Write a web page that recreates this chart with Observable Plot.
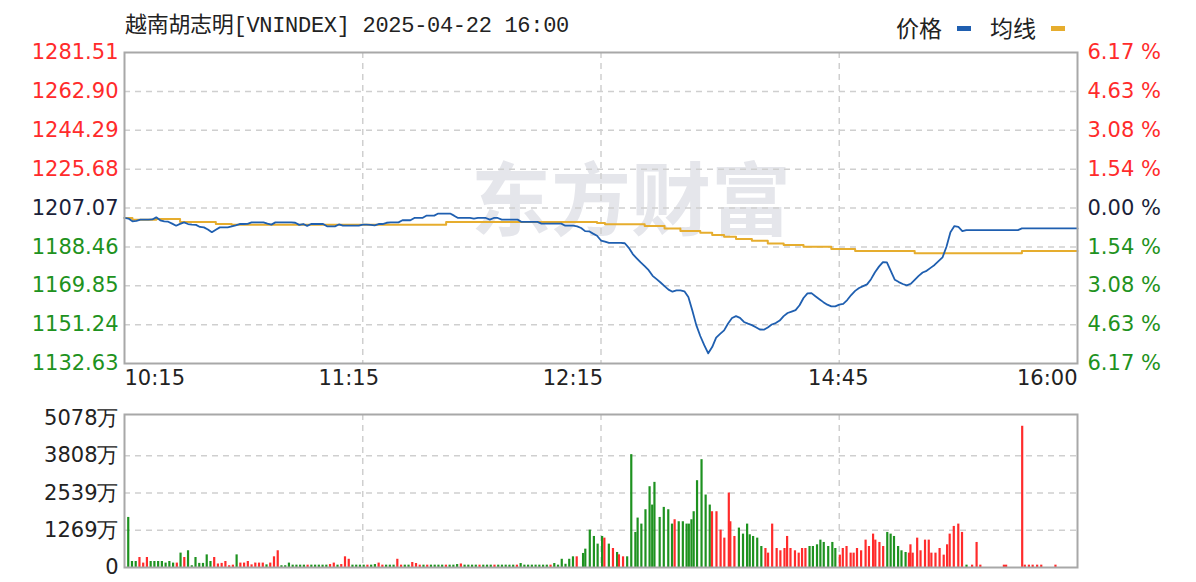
<!DOCTYPE html>
<html><head><meta charset="utf-8">
<script src="https://cdn.jsdelivr.net/npm/d3@7"></script>
<script src="https://cdn.jsdelivr.net/npm/@observablehq/plot@0.6"></script>
<style>
body{margin:0;background:#fff;}
#wrap{position:relative;width:1196px;height:582px;overflow:hidden;background:#fff;}
#title{position:absolute;left:125px;top:12px;line-height:30px;font-size:22px;font-family:"Liberation Mono","Noto Sans CJK SC",monospace;color:#222;white-space:nowrap;letter-spacing:-0.3px;}
#legend{position:absolute;left:896px;top:12px;line-height:30px;font-size:23px;font-family:"Noto Sans CJK SC",sans-serif;color:#222;white-space:nowrap;}
#legend .sw{display:inline-block;width:14px;height:5px;vertical-align:middle;margin:0 19px 0 15px;position:relative;top:-2px;}
#main{position:absolute;left:0;top:40px;}
#vol{position:absolute;left:0;top:400px;}
</style></head>
<body><div id="wrap">
<div id="title">越南胡志明[VNINDEX] 2025-04-22 16:00</div>
<div id="legend">价格<span class="sw" style="background:#1f5fb0"></span>均线<span class="sw" style="background:#e6ad2e"></span></div>
<div id="main"></div>
<div id="vol"></div>
</div>
<script>
// ---- data ----
const prevClose = 1207.07;
const priceTicks = [1281.51,1262.90,1244.29,1225.68,1207.07,1188.46,1169.85,1151.24,1132.63];
const pctLabels = ["6.17 %","4.63 %","3.08 %","1.54 %","0.00 %","1.54 %","3.08 %","4.63 %","6.17 %"];
const timeLabels = ["10:15","11:15","12:15","14:45","16:00"];
const timeMinutes = [0,60,120,191,255];
const sessionMinutes = 255;
const quarterGrid = [63.75,127.5,191.25];
const volTicks = [0,1269,2539,3808,5078];
const volLabels = ["0","1269万","2539万","3808万","5078万"];

// price readings, 241 evenly spaced readings across the session
const price = [1202.3,1202.0,1200.7,1200.9,1201.5,1201.5,1201.5,1201.6,1202.6,1201.2,
1200.7,1200.5,1199.6,1198.6,1199.5,1200.2,1199.4,1199.1,1199.0,1198.0,
1197.8,1196.8,1195.5,1196.7,1197.8,1197.8,1197.8,1198.3,1198.8,1199.4,
1199.4,1199.5,1200.2,1200.2,1200.2,1200.2,1199.6,1199.1,1200.2,1200.2,
1200.2,1200.2,1200.2,1200.0,1199.0,1199.4,1198.5,1199.4,1199.4,1199.4,
1199.4,1198.3,1198.3,1198.3,1199.2,1198.6,1198.6,1198.6,1198.6,1198.6,
1199.1,1199.1,1199.0,1198.8,1199.4,1199.4,1200.0,1200.2,1200.2,1200.2,
1201.2,1201.2,1201.2,1202.3,1202.3,1202.3,1203.4,1203.4,1203.4,1204.4,
1204.4,1204.4,1204.4,1203.4,1202.3,1202.3,1202.3,1202.3,1202.0,1202.3,
1202.3,1202.3,1201.5,1202.3,1202.3,1201.5,1201.5,1201.5,1201.5,1201.5,
1200.4,1200.4,1200.4,1200.4,1200.4,1199.6,1199.6,1199.6,1199.6,1199.6,
1199.6,1198.6,1198.6,1198.6,1198.3,1197.5,1196.0,1195.9,1194.8,1193.8,
1191.5,1191.0,1190.4,1190.4,1190.4,1190.4,1190.2,1188.0,1185.0,1183.0,
1181.0,1179.2,1177.3,1174.6,1173.0,1171.4,1169.7,1168.0,1167.0,1167.6,
1167.6,1167.2,1164.5,1158.0,1151.0,1145.8,1141.4,1137.5,1140.5,1145.0,
1146.8,1148.5,1151.8,1154.4,1155.3,1154.5,1152.5,1151.7,1151.0,1150.0,
1148.9,1148.8,1149.9,1151.3,1152.0,1153.2,1155.3,1156.8,1157.5,1158.2,
1160.5,1164.0,1166.2,1166.3,1164.8,1163.4,1162.0,1160.8,1160.0,1160.0,
1160.8,1161.2,1163.0,1165.4,1167.4,1168.8,1169.7,1170.5,1173.0,1176.3,
1179.0,1181.2,1181.0,1176.8,1172.7,1171.6,1170.7,1170.0,1170.8,1172.7,
1174.6,1176.2,1177.0,1178.4,1179.8,1181.6,1183.4,1188.5,1195.5,1198.4,
1198.0,1196.0,1196.5,1196.5,1196.5,1196.5,1196.5,1196.5,1196.5,1196.5,
1196.5,1196.5,1196.5,1196.5,1196.5,1196.5,1197.3,1197.3,1197.3,1197.3,
1197.3,1197.3,1197.3,1197.3,1197.3,1197.3,1197.3,1197.3,1197.3,1197.3,1197.3];

// average line: reading index where each level starts, and the level
const avgIdx = [0,2,8,14,23,27,81,119,121,131,136,140,145,148,151,154,158,162,166,171,178,184,199,226,240];
const avgVal = [1202.3,1201.5,1201.8,1200.4,1199.4,1199.1,1200.4,1199.9,1199.3,1198.4,1197.3,1196.1,1195.2,1194.1,1193.3,1192.2,1191.4,1190.1,1189.3,1188.5,1187.4,1186.5,1185.4,1186.5,1186.5];

// morning volume (万), minutes 1..121
const amVol = [1705,205,205,340,150,340,205,205,205,205,
150,205,150,150,490,340,570,60,340,140,
140,430,205,340,120,140,205,60,80,430,
150,150,205,90,150,150,150,90,150,364,
570,60,60,150,80,80,80,80,80,80,
80,80,80,80,100,150,80,100,364,280,
80,80,80,80,80,80,100,150,80,80,
80,80,280,80,80,80,170,135,80,80,
80,80,80,80,80,80,80,80,100,120,
80,80,80,80,80,80,80,80,80,80,
80,80,80,80,80,135,80,80,80,80,
80,80,80,80,135,80,280,110,280,364,
364];
const amUp = "GGGRRRGGGGGGGRGRGGGGGGGRRRRRRGRRRRRRRGRRRGGGGGGGRGGGGGRRGRRRGGGGRGGRRGGGRRGGRRRGRGGGGRGGGRGGGGRGGGRGGGGGRGGGGGGGGRGGGGGGR";
// afternoon volume
const pmMin = [122.7,123.3,124.5,125.6,126.6,127.8,128.4,129.6,130.7,131.8,
132.3,133.4,134.5,135.6,136.7,137.3,138.3,139.4,140.5,141.2,
141.8,143.2,144.3,145.5,146.5,147.2,148.3,149.4,150.4,151.0,
151.7,152.3,153.2,154.4,155.5,156.6,157.2,158.4,159.5,160.5,
161.7,162.1,163.2,164.4,165.5,166.6,167.3,168.2,169.3,170.4,
171.5,172.2,173.3,174.5,175.5,176.6,177.3,178.2,179.4,180.4,
181.3,182.2,183.3,184.2,185.3,186.2,187.1,188.3,189.4,190.2,
191.4,192.2,193.2,194.3,195.1,196.0,197.1,198.3,199.2,200.3,
200.9,202.0,203.0,204.1,205.0,205.9,207.0,207.9,209.0,209.9,
210.3,210.9,212.1,213.0,214.2,215.2,215.9,217.0,218.1,219.2,
220.1,220.8,221.9,223.1,224.1,225.3,226.8,228.0,229.0,235.3,
235.9,240.2,240.9,242.0,243.0,244.2,245.3,249.1];
const pmVol = [478,625,1273,1057,796,1057,1000,796,648,512,
432,364,364,3843,1194,1683,1478,1967,2751,2126,
2899,1705,2047,1967,1478,1626,1558,1558,1478,1478,
1626,1899,2956,3672,2467,2126,1899,1899,1273,1000,
2536,1558,1057,1342,1137,1478,1114,1057,1000,716,
648,489,1478,648,569,648,1057,648,569,489,
648,648,716,716,773,932,853,716,853,648,
421,648,716,489,489,648,569,932,716,1137,
932,853,716,1194,1137,1057,716,569,512,489,
773,489,1000,569,932,932,489,489,648,421,
773,1137,1399,1478,1194,80,80,853,80,80,
80,4809,80,80,80,80,80,80];
const pmUp = "GGGGGGRGRGRRGGGGGGGGGGGGGRGGGGGGGGGGRRRRRRRGGGGGGGRRRRRRRRRRRRGGGGGGGGRRRRRRRRRRRRRGGGGGGRRRRRRRRRRRRRRRRGRRRRRRRRRRRRR";

// ---- build tables ----
const toMin = i => i * sessionMinutes / (price.length - 1);
const priceData = price.map((v, i) => ({m: toMin(i), v}));
const avgData = avgIdx.map((k, i) => ({m: toMin(k), v: avgVal[i]}));
const volData = [
  ...amVol.map((v, i) => ({m: i + 1, v, up: amUp[i] === "R"})),
  ...pmVol.map((v, i) => ({m: pmMin[i], v, up: pmUp[i] === "R"}))
];
const RED = "#ff2b2b", GREEN = "#1e9220", DARK = "#1b1f3a";
const tickColor = v => v > prevClose + 1e-6 ? RED : (v < prevClose - 1e-6 ? GREEN : DARK);
const FONT = "DejaVu Sans";
const gridStyle = {stroke: "#cfcfcf", strokeWidth: 1.5, strokeDasharray: "6,5"};
const lblFont = {fontSize: 21, fontFamily: FONT};

const main = Plot.plot({
  width: 1196, height: 360,
  marginTop: 12, marginBottom: 37, marginLeft: 124, marginRight: 119,
  x: {domain: [0, sessionMinutes], axis: null},
  y: {domain: [priceTicks[priceTicks.length - 1], priceTicks[0]], axis: null},
  style: {fontFamily: FONT, background: "#fff", overflow: "visible"},
  marks: [
    Plot.text(["东方财富"], {frameAnchor: "middle", dx: 30, dy: -5, fontSize: 80, fontWeight: 700, fontFamily: "Noto Sans CJK SC", fill: "#e5e6eb"}),
    Plot.ruleY(priceTicks.slice(1, -1), gridStyle),
    Plot.ruleX(quarterGrid, gridStyle),
    Plot.line(avgData, {x: "m", y: "v", stroke: "#e6ad2e", strokeWidth: 2, curve: "step-after"}),
    Plot.line(priceData, {x: "m", y: "v", stroke: "#1f5fb0", strokeWidth: 1.8}),
    Plot.frame({stroke: "#a8a8a8", strokeWidth: 2}),
    Plot.text(priceTicks, {y: d => d, text: d => d.toFixed(2), frameAnchor: "left", textAnchor: "end", dx: -6, fill: d => tickColor(d), ...lblFont}),
    Plot.text(pctLabels, {y: (d, i) => priceTicks[i], text: d => d, frameAnchor: "right", textAnchor: "start", dx: 10, fill: (d, i) => tickColor(priceTicks[i]), ...lblFont}),
    Plot.text(timeLabels.slice(0, 1), {x: timeMinutes.slice(0, 1), text: d => d, frameAnchor: "bottom", textAnchor: "start", dy: 21, fill: "#222", ...lblFont}),
    Plot.text(timeLabels.slice(1, 4), {x: timeMinutes.slice(1, 4), text: d => d, frameAnchor: "bottom", textAnchor: "middle", dy: 21, fill: "#222", ...lblFont}),
    Plot.text(timeLabels.slice(4), {x: timeMinutes.slice(4), text: d => d, frameAnchor: "bottom", textAnchor: "end", dy: 21, fill: "#222", ...lblFont})
  ]
});
document.getElementById("main").appendChild(main);

const vol = Plot.plot({
  width: 1196, height: 182,
  marginTop: 14, marginBottom: 15, marginLeft: 124, marginRight: 119,
  x: {domain: [0, sessionMinutes], axis: null},
  y: {domain: [0, 5210], axis: null},
  style: {fontFamily: FONT, background: "#fff", overflow: "visible"},
  marks: [
    Plot.ruleY(volTicks.slice(1, -1), gridStyle),
    Plot.ruleX(quarterGrid, gridStyle),
    Plot.ruleX(volData, {x: "m", y1: 0, y2: "v", stroke: d => d.up ? RED : GREEN, strokeWidth: 2.2}),
    Plot.frame({stroke: "#a8a8a8", strokeWidth: 2}),
    Plot.text(volTicks, {y: d => d, text: (d, i) => volLabels[i], frameAnchor: "left", textAnchor: "end", dx: -6, fill: "#222", ...lblFont})
  ]
});
document.getElementById("vol").appendChild(vol);
</script>
</body></html>
